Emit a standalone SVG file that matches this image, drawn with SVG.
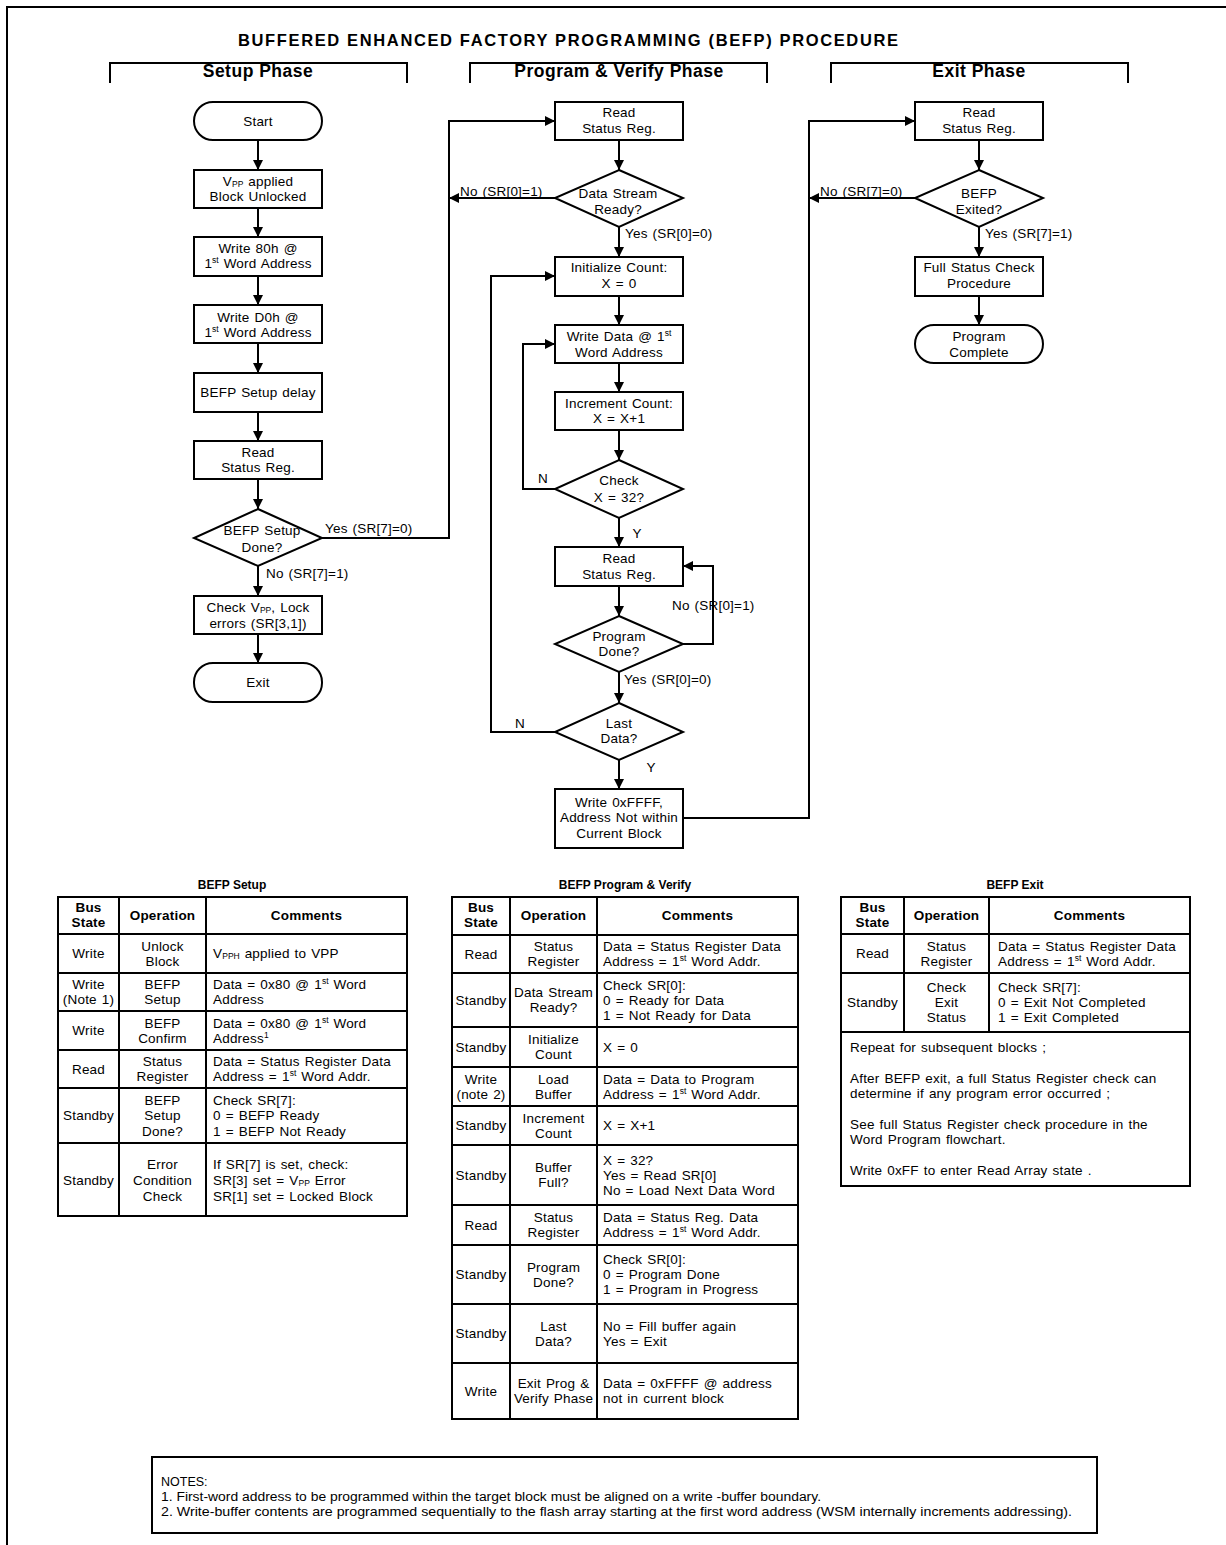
<svg xmlns="http://www.w3.org/2000/svg" width="1226" height="1545" viewBox="0 0 1226 1545">
<style>
.bg{fill:#fff}
.box{fill:#fff;stroke:#000;stroke-width:2}
.t,.tt{font-family:"Liberation Sans",Arial,sans-serif;font-size:13.5px;letter-spacing:0.2px;word-spacing:1px;fill:#000}
.c{text-anchor:middle}
.b{font-weight:bold}
.h{font-family:"Liberation Sans",Arial,sans-serif;font-weight:bold;fill:#000}
.ph{font-size:17.5px;letter-spacing:0.5px}
.conn{fill:none;stroke:#000;stroke-width:2;marker-end:url(#ah)}
.ln{fill:none;stroke:#000;stroke-width:2}
.sm{font-size:8.5px;letter-spacing:0;word-spacing:0}
.nt{font-family:"Liberation Sans Narrow","Liberation Sans",Arial,sans-serif;font-size:12.5px;fill:#000}
</style>
<defs>
<marker id="ah" markerWidth="10" markerHeight="10" refX="10" refY="5" orient="auto" markerUnits="userSpaceOnUse"><path d="M0,0 L10,5 L0,10 z" fill="#000"/></marker>
</defs>
<rect class="bg" x="0" y="0" width="1226" height="1545"/>
<path class="ln" d="M7,1545 V7 H1226"/>

<g id="title">
<text class="h c" x="568" y="46" font-size="16.5" textLength="660" lengthAdjust="spacing">BUFFERED ENHANCED FACTORY PROGRAMMING (BEFP) PROCEDURE</text>
</g>
<g id="phases">
<path class="ln" d="M110,83 V63 H407 V83" stroke-width="3"/>
<path class="ln" d="M470,83 V63 H767 V83" stroke-width="3"/>
<path class="ln" d="M831,83 V63 H1128 V83" stroke-width="3"/>
<text class="h c ph" x="258" y="77">Setup Phase</text>
<text class="h c ph" x="619" y="77">Program &amp; Verify Phase</text>
<text class="h c ph" x="979" y="77">Exit Phase</text>
</g>

<g id="connectors">
<path class="conn" d="M258,140 V170"/>
<path class="conn" d="M258,208 V237"/>
<path class="conn" d="M258,276 V305"/>
<path class="conn" d="M258,343 V373"/>
<path class="conn" d="M258,412 V441"/>
<path class="conn" d="M258,479 V509"/>
<path class="conn" d="M258,566 V596"/>
<path class="conn" d="M258,634 V663"/>
<path class="conn" d="M322,538 H449 V121 H555"/>
<path class="conn" d="M619,140 V170"/>
<path class="conn" d="M619,227 V257"/>
<path class="conn" d="M619,296 V325"/>
<path class="conn" d="M619,363 V392"/>
<path class="conn" d="M619,430 V460"/>
<path class="conn" d="M619,518 V547"/>
<path class="conn" d="M619,586 V616"/>
<path class="conn" d="M619,672 V703"/>
<path class="conn" d="M619,760 V789"/>
<path class="conn" d="M555,198 H449"/>
<path class="conn" d="M555,489 H523 V344 H555"/>
<path class="conn" d="M683,644 H713 V566 H683"/>
<path class="conn" d="M555,732 H491 V276 H555"/>
<path class="conn" d="M683,818 H809 V121 H915"/>
<path class="conn" d="M915,198 H809"/>
<path class="conn" d="M979,140 V170"/>
<path class="conn" d="M979,227 V257"/>
<path class="conn" d="M979,296 V325"/>
</g>

<g id="labels">
<text class="t" x="325" y="533">Yes (SR[7]=0)</text>
<text class="t" x="266" y="578">No (SR[7]=1)</text>
<text class="t" x="460" y="196">No (SR[0]=1)</text>
<text class="t" x="625" y="238">Yes (SR[0]=0)</text>
<text class="t c" x="543" y="483">N</text>
<text class="t c" x="637" y="538">Y</text>
<text class="t" x="672" y="610">No (SR[0]=1)</text>
<text class="t" x="624" y="684">Yes (SR[0]=0)</text>
<text class="t c" x="520" y="728">N</text>
<text class="t c" x="651" y="772">Y</text>
<text class="t" x="820" y="196">No (SR[7]=0)</text>
<text class="t" x="985" y="238">Yes (SR[7]=1)</text>
</g>

<g id="start">
<rect class="box" x="194" y="102" width="128" height="38" rx="19"/>
<text class="t c" x="258" y="126">Start</text>
</g>
<g id="vpp-applied">
<rect class="box" x="194" y="170" width="128" height="38"/>
<text class="t c" x="258" y="186">V<tspan class="sm" dy="1">PP</tspan><tspan dy="-1"> applied</tspan></text>
<text class="t c" x="258" y="201">Block Unlocked</text>
</g>
<g id="write-80h">
<rect class="box" x="194" y="237" width="128" height="39"/>
<text class="t c" x="258" y="253">Write 80h @</text>
<text class="t c" x="258" y="268">1<tspan class="sm" dy="-5">st</tspan><tspan dy="5"> Word Address</tspan></text>
</g>
<g id="write-d0h">
<rect class="box" x="194" y="305" width="128" height="38"/>
<text class="t c" x="258" y="322">Write D0h @</text>
<text class="t c" x="258" y="337">1<tspan class="sm" dy="-5">st</tspan><tspan dy="5"> Word Address</tspan></text>
</g>
<g id="setup-delay">
<rect class="box" x="194" y="373" width="128" height="39"/>
<text class="t c" x="258" y="397">BEFP Setup delay</text>
</g>
<g id="setup-read-sr">
<rect class="box" x="194" y="441" width="128" height="38"/>
<text class="t c" x="258" y="457">Read</text>
<text class="t c" x="258" y="472">Status Reg.</text>
</g>
<g id="setup-done">
<polygon class="box" points="258,509 322,538 258,566 194,538"/>
<text class="t c" x="262" y="535">BEFP Setup</text>
<text class="t c" x="262" y="552">Done?</text>
</g>
<g id="check-errors">
<rect class="box" x="194" y="596" width="128" height="38"/>
<text class="t c" x="258" y="612">Check V<tspan class="sm" dy="1">PP</tspan><tspan dy="-1">, Lock</tspan></text>
<text class="t c" x="258" y="628">errors (SR[3,1])</text>
</g>
<g id="exit">
<rect class="box" x="194" y="663" width="128" height="39" rx="19"/>
<text class="t c" x="258" y="687">Exit</text>
</g>

<g id="pv-read-sr">
<rect class="box" x="555" y="102" width="128" height="38"/>
<text class="t c" x="619" y="117">Read</text>
<text class="t c" x="619" y="133">Status Reg.</text>
</g>
<g id="data-stream-ready">
<polygon class="box" points="619,170 683,198 619,227 555,198"/>
<text class="t c" x="618" y="198">Data Stream</text>
<text class="t c" x="618" y="214">Ready?</text>
</g>
<g id="init-count">
<rect class="box" x="555" y="257" width="128" height="39"/>
<text class="t c" x="619" y="272">Initialize Count:</text>
<text class="t c" x="619" y="288">X = 0</text>
</g>
<g id="write-data">
<rect class="box" x="555" y="325" width="128" height="38"/>
<text class="t c" x="619" y="341">Write Data @ 1<tspan class="sm" dy="-5">st</tspan></text>
<text class="t c" x="619" y="357">Word Address</text>
</g>
<g id="inc-count">
<rect class="box" x="555" y="392" width="128" height="38"/>
<text class="t c" x="619" y="408">Increment Count:</text>
<text class="t c" x="619" y="423">X = X+1</text>
</g>
<g id="check-x">
<polygon class="box" points="619,460 683,489 619,518 555,489"/>
<text class="t c" x="619" y="485">Check</text>
<text class="t c" x="619" y="502">X = 32?</text>
</g>
<g id="pv-read-sr2">
<rect class="box" x="555" y="547" width="128" height="39"/>
<text class="t c" x="619" y="563">Read</text>
<text class="t c" x="619" y="579">Status Reg.</text>
</g>
<g id="program-done">
<polygon class="box" points="619,616 683,644 619,672 555,644"/>
<text class="t c" x="619" y="641">Program</text>
<text class="t c" x="619" y="656">Done?</text>
</g>
<g id="last-data">
<polygon class="box" points="619,703 683,732 619,760 555,732"/>
<text class="t c" x="619" y="728">Last</text>
<text class="t c" x="619" y="743">Data?</text>
</g>
<g id="write-ffff">
<rect class="box" x="555" y="789" width="128" height="59"/>
<text class="t c" x="619" y="807">Write 0xFFFF,</text>
<text class="t c" x="619" y="822">Address Not within</text>
<text class="t c" x="619" y="838">Current Block</text>
</g>

<g id="exit-read-sr">
<rect class="box" x="915" y="102" width="128" height="38"/>
<text class="t c" x="979" y="117">Read</text>
<text class="t c" x="979" y="133">Status Reg.</text>
</g>
<g id="befp-exited">
<polygon class="box" points="979,170 1043,198 979,227 915,198"/>
<text class="t c" x="979" y="198">BEFP</text>
<text class="t c" x="979" y="214">Exited?</text>
</g>
<g id="full-status">
<rect class="box" x="915" y="257" width="128" height="39"/>
<text class="t c" x="979" y="272">Full Status Check</text>
<text class="t c" x="979" y="288">Procedure</text>
</g>
<g id="program-complete">
<rect class="box" x="915" y="325" width="128" height="38" rx="19"/>
<text class="t c" x="979" y="341">Program</text>
<text class="t c" x="979" y="357">Complete</text>
</g>

<g id="table-setup">
<text class="h c" x="232" y="889" font-size="12">BEFP Setup</text>
<rect class="ln" x="58" y="897" width="349" height="319"/>
<path class="ln" d="M119,897 V1216 M206,897 V1216 M58,934 H407 M58,973 H407 M58,1011 H407 M58,1050 H407 M58,1088 H407 M58,1143 H407"/>
<text class="tt c b" x="88.5" y="912">Bus</text>
<text class="tt c b" x="88.5" y="927">State</text>
<text class="tt c b" x="162.5" y="920">Operation</text>
<text class="tt c b" x="306.5" y="920">Comments</text>
<text class="tt c" x="88.5" y="958">Write</text>
<text class="tt c" x="162.5" y="951">Unlock</text>
<text class="tt c" x="162.5" y="966">Block</text>
<text class="tt" x="213" y="958">V<tspan class="sm" dy="1">PPH</tspan><tspan dy="-1"> applied to VPP</tspan></text>
<text class="tt c" x="88.5" y="989">Write</text>
<text class="tt c" x="88.5" y="1004">(Note 1)</text>
<text class="tt c" x="162.5" y="989">BEFP</text>
<text class="tt c" x="162.5" y="1004">Setup</text>
<text class="tt" x="213" y="989">Data = 0x80 @ 1<tspan class="sm" dy="-5">st</tspan><tspan dy="5"> Word</tspan></text>
<text class="tt" x="213" y="1004">Address</text>
<text class="tt c" x="88.5" y="1035">Write</text>
<text class="tt c" x="162.5" y="1028">BEFP</text>
<text class="tt c" x="162.5" y="1043">Confirm</text>
<text class="tt" x="213" y="1028">Data = 0x80 @ 1<tspan class="sm" dy="-5">st</tspan><tspan dy="5"> Word</tspan></text>
<text class="tt" x="213" y="1043">Address<tspan class="sm" dy="-5">1</tspan></text>
<text class="tt c" x="88.5" y="1074">Read</text>
<text class="tt c" x="162.5" y="1066">Status</text>
<text class="tt c" x="162.5" y="1081">Register</text>
<text class="tt" x="213" y="1066">Data = Status Register Data</text>
<text class="tt" x="213" y="1081">Address = 1<tspan class="sm" dy="-5">st</tspan><tspan dy="5"> Word Addr.</tspan></text>
<text class="tt c" x="88.5" y="1120">Standby</text>
<text class="tt c" x="162.5" y="1105">BEFP</text>
<text class="tt c" x="162.5" y="1120">Setup</text>
<text class="tt c" x="162.5" y="1136">Done?</text>
<text class="tt" x="213" y="1105">Check SR[7]:</text>
<text class="tt" x="213" y="1120">0 = BEFP Ready</text>
<text class="tt" x="213" y="1136">1 = BEFP Not Ready</text>
<text class="tt c" x="88.5" y="1185">Standby</text>
<text class="tt c" x="162.5" y="1169">Error</text>
<text class="tt c" x="162.5" y="1185">Condition</text>
<text class="tt c" x="162.5" y="1201">Check</text>
<text class="tt" x="213" y="1169">If SR[7] is set, check:</text>
<text class="tt" x="213" y="1185">SR[3] set = V<tspan class="sm" dy="1">PP</tspan><tspan dy="-1"> Error</tspan></text>
<text class="tt" x="213" y="1201">SR[1] set = Locked Block</text>
</g>

<g id="table-program">
<text class="h c" x="625" y="889" font-size="12">BEFP Program &amp; Verify</text>
<rect class="ln" x="452" y="897" width="346" height="522"/>
<path class="ln" d="M510,897 V1419 M597,897 V1419 M452,935 H798 M452,973 H798 M452,1027 H798 M452,1067 H798 M452,1106 H798 M452,1145 H798 M452,1205 H798 M452,1245 H798 M452,1304 H798 M452,1363 H798"/>
<text class="tt c b" x="481" y="912">Bus</text>
<text class="tt c b" x="481" y="927">State</text>
<text class="tt c b" x="553.5" y="920">Operation</text>
<text class="tt c b" x="697.5" y="920">Comments</text>
<text class="tt c" x="481" y="959">Read</text>
<text class="tt c" x="553.5" y="951">Status</text>
<text class="tt c" x="553.5" y="966">Register</text>
<text class="tt" x="603" y="951">Data = Status Register Data</text>
<text class="tt" x="603" y="966">Address = 1<tspan class="sm" dy="-5">st</tspan><tspan dy="5"> Word Addr.</tspan></text>
<text class="tt c" x="481" y="1005">Standby</text>
<text class="tt c" x="553.5" y="997">Data Stream</text>
<text class="tt c" x="553.5" y="1012">Ready?</text>
<text class="tt" x="603" y="990">Check SR[0]:</text>
<text class="tt" x="603" y="1005">0 = Ready for Data</text>
<text class="tt" x="603" y="1020">1 = Not Ready for Data</text>
<text class="tt c" x="481" y="1052">Standby</text>
<text class="tt c" x="553.5" y="1044">Initialize</text>
<text class="tt c" x="553.5" y="1059">Count</text>
<text class="tt" x="603" y="1052">X = 0</text>
<text class="tt c" x="481" y="1084">Write</text>
<text class="tt c" x="481" y="1099">(note 2)</text>
<text class="tt c" x="553.5" y="1084">Load</text>
<text class="tt c" x="553.5" y="1099">Buffer</text>
<text class="tt" x="603" y="1084">Data = Data to Program</text>
<text class="tt" x="603" y="1099">Address = 1<tspan class="sm" dy="-5">st</tspan><tspan dy="5"> Word Addr.</tspan></text>
<text class="tt c" x="481" y="1130">Standby</text>
<text class="tt c" x="553.5" y="1123">Increment</text>
<text class="tt c" x="553.5" y="1138">Count</text>
<text class="tt" x="603" y="1130">X = X+1</text>
<text class="tt c" x="481" y="1180">Standby</text>
<text class="tt c" x="553.5" y="1172">Buffer</text>
<text class="tt c" x="553.5" y="1187">Full?</text>
<text class="tt" x="603" y="1165">X = 32?</text>
<text class="tt" x="603" y="1180">Yes = Read SR[0]</text>
<text class="tt" x="603" y="1195">No = Load Next Data Word</text>
<text class="tt c" x="481" y="1230">Read</text>
<text class="tt c" x="553.5" y="1222">Status</text>
<text class="tt c" x="553.5" y="1237">Register</text>
<text class="tt" x="603" y="1222">Data = Status Reg. Data</text>
<text class="tt" x="603" y="1237">Address = 1<tspan class="sm" dy="-5">st</tspan><tspan dy="5"> Word Addr.</tspan></text>
<text class="tt c" x="481" y="1279">Standby</text>
<text class="tt c" x="553.5" y="1272">Program</text>
<text class="tt c" x="553.5" y="1287">Done?</text>
<text class="tt" x="603" y="1264">Check SR[0]:</text>
<text class="tt" x="603" y="1279">0 = Program Done</text>
<text class="tt" x="603" y="1294">1 = Program in Progress</text>
<text class="tt c" x="481" y="1338">Standby</text>
<text class="tt c" x="553.5" y="1331">Last</text>
<text class="tt c" x="553.5" y="1346">Data?</text>
<text class="tt" x="603" y="1331">No = Fill buffer again</text>
<text class="tt" x="603" y="1346">Yes = Exit</text>
<text class="tt c" x="481" y="1396">Write</text>
<text class="tt c" x="553.5" y="1388">Exit Prog &amp;</text>
<text class="tt c" x="553.5" y="1403">Verify Phase</text>
<text class="tt" x="603" y="1388">Data = 0xFFFF @ address</text>
<text class="tt" x="603" y="1403">not in current block</text>
</g>

<g id="table-exit">
<text class="h c" x="1015" y="889" font-size="12">BEFP Exit</text>
<rect class="ln" x="841" y="897" width="349" height="289"/>
<path class="ln" d="M904,897 V1032 M989,897 V1032 M841,934 H1190 M841,973 H1190 M841,1032 H1190"/>
<text class="tt c b" x="872.5" y="912">Bus</text>
<text class="tt c b" x="872.5" y="927">State</text>
<text class="tt c b" x="946.5" y="920">Operation</text>
<text class="tt c b" x="1089.5" y="920">Comments</text>
<text class="tt c" x="872.5" y="958">Read</text>
<text class="tt c" x="946.5" y="951">Status</text>
<text class="tt c" x="946.5" y="966">Register</text>
<text class="tt" x="998" y="951">Data = Status Register Data</text>
<text class="tt" x="998" y="966">Address = 1<tspan class="sm" dy="-5">st</tspan><tspan dy="5"> Word Addr.</tspan></text>
<text class="tt c" x="872.5" y="1007">Standby</text>
<text class="tt c" x="946.5" y="992">Check</text>
<text class="tt c" x="946.5" y="1007">Exit</text>
<text class="tt c" x="946.5" y="1022">Status</text>
<text class="tt" x="998" y="992">Check SR[7]:</text>
<text class="tt" x="998" y="1007">0 = Exit Not Completed</text>
<text class="tt" x="998" y="1022">1 = Exit Completed</text>
<text class="tt" x="850" y="1052">Repeat for subsequent blocks ;</text>
<text class="tt" x="850" y="1083">After BEFP exit, a full Status Register check can</text>
<text class="tt" x="850" y="1098">determine if any program error occurred ;</text>
<text class="tt" x="850" y="1129">See full Status Register check procedure in the</text>
<text class="tt" x="850" y="1144">Word Program flowchart.</text>
<text class="tt" x="850" y="1175">Write 0xFF to enter Read Array state .</text>
</g>

<g id="notes">
<rect class="ln" x="152" y="1457" width="945" height="76" stroke-width="1.5"/>
<text class="nt" x="161" y="1486">NOTES:</text>
<text class="nt" x="161" y="1501" textLength="660" lengthAdjust="spacingAndGlyphs">1. First-word address to be programmed within the target block must be aligned on a write -buffer boundary.</text>
<text class="nt" x="161" y="1516" textLength="911" lengthAdjust="spacingAndGlyphs">2. Write-buffer contents are programmed sequentially to the flash array starting at the first word address  (WSM internally increments addressing).</text>
</g>
</svg>
